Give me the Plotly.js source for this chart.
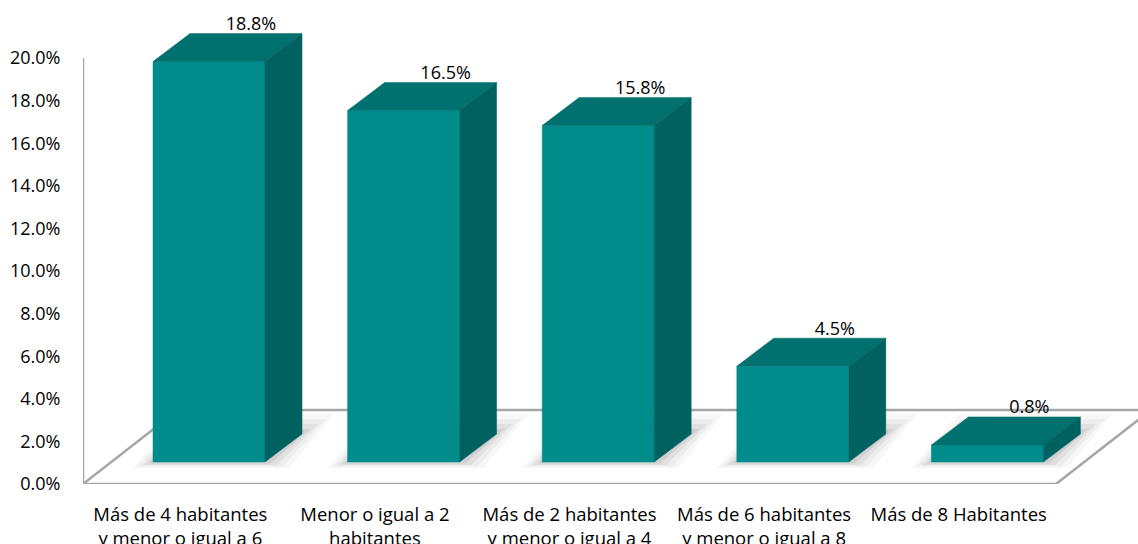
<!DOCTYPE html>
<html>
<head>
<meta charset="utf-8">
<script src="https://cdn.plot.ly/plotly-3.0.1.min.js"></script>
<style>html,body{margin:0;padding:0;background:#fff;}#chart{width:1138px;height:544px;}</style>
</head>
<body>
<div id="chart"></div>
<script>
// ---- data ----
const categories = [
  "Más de 4 habitantes<br>y menor o igual a 6",
  "Menor o igual a 2<br>habitantes",
  "Más de 2 habitantes<br>y menor o igual a 4",
  "Más de 6 habitantes<br>y menor o igual a 8",
  "Más de 8 Habitantes"
];
const values = [18.8, 16.5, 15.8, 4.5, 0.8];
const valueLabels = ["18.8%", "16.5%", "15.8%", "4.5%", "0.8%"];
const yTickVals = [0, 2, 4, 6, 8, 10, 12, 14, 16, 18, 20];
const yTickText = ["0.0%", "2.0%", "4.0%", "6.0%", "8.0%", "10.0%", "12.0%", "14.0%", "16.0%", "18.0%", "20.0%"];

// ---- 3D geometry (style, in axis units) ----
const slotPx = 194.6, pxPerUnit = 21.3;
const xMax = 1055 / slotPx, yMax = 481 / pxPerUnit;
const barOff = 28.7 / slotPx, barW = 112 / slotPx, barBase = 22 / pxPerUnit;
const dX = 37 / slotPx, dY = 28 / pxPerUnit;
const floorDX = 95 / slotPx, floorDY = 74 / pxPerUnit;

const FRONT = "#018c8c", TOP = "#00716f", SIDE = "#006260";
const FONT = "'Open Sans', 'Noto Sans', sans-serif";

function polys(fn) {
  const xs = [], ys = [];
  values.forEach((v, i) => {
    const p = fn(v, i);
    p.forEach(pt => { xs.push(pt[0]); ys.push(pt[1]); });
    xs.push(p[0][0]); ys.push(p[0][1]);
    xs.push(null); ys.push(null);
  });
  return {x: xs, y: ys};
}
function geo(v, i) {
  const xl = i + 0.5 - barW / 2 + barOff, xr = xl + barW;
  const b = barBase, t = barBase + v;
  return {xl, xr, b, t};
}

const traces = [];
// soft shadows on floor
[[20, 0.03], [15, 0.04], [10, 0.055], [5, 0.07]].forEach(([pad, a]) => {
  const px = pad / slotPx, py = pad / pxPerUnit;
  const p = polys((v, i) => {
    const g = geo(v, i);
    return [[g.xl - px, g.b - py * 0.3], [g.xr + px * 1.2, g.b - py * 0.3],
            [g.xr + dX + px * 1.6, g.b + dY + py], [g.xl + dX - px * 0.5, g.b + dY + py]];
  });
  traces.push({x: p.x, y: p.y, mode: "lines", fill: "toself", fillcolor: "rgba(0,0,0," + a + ")",
    line: {width: 0}, hoverinfo: "skip", showlegend: false});
});
// front faces
let p = polys((v, i) => { const g = geo(v, i); return [[g.xl, g.b], [g.xr, g.b], [g.xr, g.t], [g.xl, g.t]]; });
traces.push({x: p.x, y: p.y, mode: "lines", fill: "toself", fillcolor: FRONT, line: {width: 0.5, color: FRONT}, hoverinfo: "skip", showlegend: false});
// top faces
p = polys((v, i) => { const g = geo(v, i); return [[g.xl, g.t], [g.xr, g.t], [g.xr + dX, g.t + dY], [g.xl + dX, g.t + dY]]; });
traces.push({x: p.x, y: p.y, mode: "lines", fill: "toself", fillcolor: TOP, line: {width: 0.5, color: TOP}, hoverinfo: "skip", showlegend: false});
// side faces
p = polys((v, i) => { const g = geo(v, i); return [[g.xr, g.b], [g.xr, g.t], [g.xr + dX, g.t + dY], [g.xr + dX, g.b + dY]]; });
traces.push({x: p.x, y: p.y, mode: "lines", fill: "toself", fillcolor: SIDE, line: {width: 0.5, color: SIDE}, hoverinfo: "skip", showlegend: false});
// value labels
traces.push({
  x: values.map((v, i) => (geo(v, i).xl + geo(v, i).xr) / 2 + dX + 5 / slotPx),
  y: values.map((v, i) => geo(v, i).t + dY + 8 / pxPerUnit),
  text: valueLabels, mode: "text", textposition: "middle center",
  textfont: {family: FONT, size: 18, color: "#000"},
  cliponaxis: false, hoverinfo: "skip", showlegend: false
});

const lineStyle = {color: "#a6a6a6", width: 2.5};
const shapes = [
  {type: "line", xref: "x", yref: "y", x0: 0, y0: 0, x1: 0, y1: 20, line: lineStyle, layer: "below"},
  {type: "line", xref: "x", yref: "y", x0: 0, y0: 0, x1: categories.length, y1: 0, line: lineStyle, layer: "below"},
  {type: "line", xref: "x", yref: "y", x0: 0, y0: 0, x1: floorDX, y1: floorDY, line: lineStyle, layer: "below"},
  {type: "line", xref: "x", yref: "y", x0: floorDX, y0: floorDY, x1: xMax + 1, y1: floorDY, line: lineStyle, layer: "below"},
  {type: "line", xref: "x", yref: "y", x0: categories.length, y0: 0, x1: categories.length + floorDX, y1: floorDY, line: lineStyle, layer: "below"}
];

const layout = {
  width: 1138, height: 544,
  margin: {l: 83, r: 0, t: 3, b: 60, pad: 0},
  paper_bgcolor: "#fff", plot_bgcolor: "#fff",
  font: {family: FONT, size: 18, color: "#000"},
  xaxis: {
    range: [0, xMax], showgrid: false, zeroline: false, showline: false,
    tickvals: categories.map((c, i) => i + 0.5), ticktext: categories,
    ticks: "outside", ticklen: 14, tickcolor: "rgba(0,0,0,0)",
    tickfont: {family: FONT, size: 18.5, color: "#000"}
  },
  yaxis: {
    range: [0, yMax], showgrid: false, zeroline: false, showline: false,
    tickvals: yTickVals, ticktext: yTickText,
    ticks: "outside", ticklen: 18, tickcolor: "rgba(0,0,0,0)",
    tickfont: {family: FONT, size: 18, color: "#000"}
  },
  shapes: shapes,
  showlegend: false
};

Plotly.newPlot("chart", traces, layout, {displayModeBar: false, staticPlot: true});
</script>
</body>
</html>
